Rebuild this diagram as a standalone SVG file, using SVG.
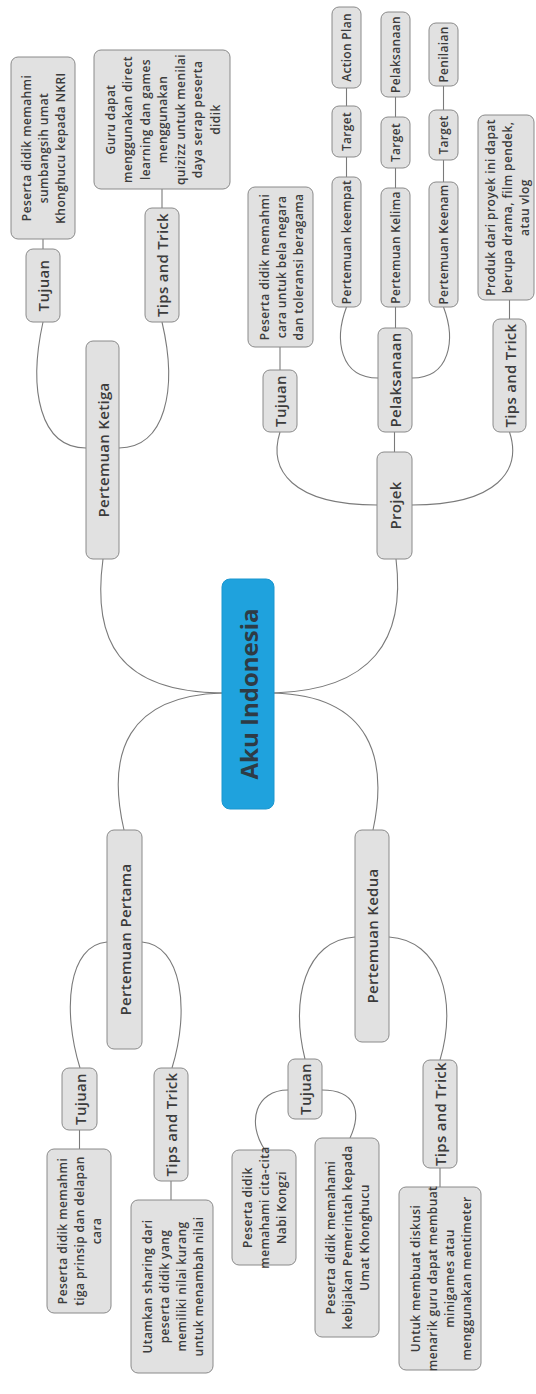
<svg xmlns="http://www.w3.org/2000/svg" width="536" height="1394" viewBox="0 0 536 1394">
  <style>
    .node { fill: #e1e1e1; stroke: #8a8a8a; stroke-width: 1; }
    .root { fill: #1fa2dd; stroke: #1b96cf; stroke-width: 1; }
    .lbl { font-family: "Open Sans", "Noto Sans", "Liberation Sans", sans-serif; font-weight: 600; fill: #3c3c3c; text-anchor: middle; dominant-baseline: central; }
    .t1 { font-size: 15px; letter-spacing: 0.3px; }
    .t2 { font-size: 12px; letter-spacing: 0.4px; }
    .t3 { font-size: 12px; letter-spacing: 0.3px; }
    .rootlbl { font-family: "Open Sans", "Noto Sans", "Liberation Sans", sans-serif; font-weight: 700; font-size: 24px; fill: #2e3b45; text-anchor: middle; dominant-baseline: central; }
    .conn path, .conn line { fill: none; stroke: #7a7a7a; stroke-width: 1.1; }
  </style>
  <rect width="536" height="1394" fill="#ffffff"/>

  <!-- connectors -->
  <g class="conn" id="connectors">
    <!-- root to main branches -->
    <path d="M 222 693 C 118 692, 92 640, 103 559"/>
    <path d="M 222 693 C 128 696, 106 752, 124 830"/>
    <path d="M 274 693 C 372 690, 406 640, 396 559"/>
    <path d="M 274 693 C 372 696, 388 760, 373 830"/>
    <!-- Pertemuan Ketiga -->
    <path d="M 86 448 C 40 448, 28 390, 43 322"/>
    <path d="M 119 448 C 165 448, 178 390, 162 322"/>
    <line x1="43" y1="249" x2="43" y2="239"/>
    <line x1="162" y1="208" x2="162" y2="189"/>
    <!-- Projek -->
    <path d="M 377 505 C 292 505, 268 470, 280 432"/>
    <path d="M 412 505 C 498 505, 522 470, 509.5 432"/>
    <line x1="394.5" y1="452" x2="394.5" y2="432"/>
    <line x1="280" y1="370" x2="280" y2="347"/>
    <line x1="509.5" y1="319" x2="509.5" y2="300"/>
    <path d="M 378 378 C 340 378, 334 340, 346.5 307"/>
    <path d="M 412 378 C 450 378, 456 340, 443.5 307"/>
    <line x1="395.5" y1="328" x2="395.5" y2="307"/>
    <line x1="346.5" y1="177" x2="346.5" y2="157"/>
    <line x1="346.5" y1="106" x2="346.5" y2="88"/>
    <line x1="395.5" y1="188" x2="395.5" y2="168"/>
    <line x1="395.5" y1="117" x2="395.5" y2="97"/>
    <line x1="443.5" y1="182" x2="443.5" y2="160"/>
    <line x1="443.5" y1="110" x2="443.5" y2="86"/>
    <!-- Pertemuan Pertama -->
    <path d="M 107 942 C 68 945, 62 1010, 80 1068"/>
    <path d="M 142 942 C 182 945, 190 1010, 172 1068"/>
    <line x1="79.5" y1="1130" x2="79.5" y2="1149"/>
    <line x1="171" y1="1181" x2="171" y2="1200"/>
    <!-- Pertemuan Kedua -->
    <path d="M 355 937 C 305 940, 290 1000, 305 1059"/>
    <path d="M 389 937 C 440 940, 458 1000, 440 1060"/>
    <path d="M 322 1090 C 356 1090, 362 1112, 350 1138"/>
    <path d="M 288 1090 C 256 1090, 246 1122, 265 1150"/>
    <line x1="440" y1="1168" x2="440" y2="1187"/>
  </g>

  <!-- central topic -->
  <g id="aku-indonesia">
    <rect class="root" x="222" y="579" width="52" height="230" rx="8"/>
    <text class="rootlbl" transform="translate(248,694) rotate(-90)">Aku Indonesia</text>
  </g>

  <!-- Pertemuan Ketiga branch -->
  <g id="pertemuan-ketiga">
    <rect class="node" x="86" y="341" width="33" height="218" rx="7"/>
    <text class="lbl t1" transform="translate(102.5,450) rotate(-90)">Pertemuan Ketiga</text>
  </g>
  <g id="ketiga-tujuan">
    <rect class="node" x="26" y="249" width="34" height="73" rx="7"/>
    <text class="lbl t1" transform="translate(43,285.5) rotate(-90)">Tujuan</text>
  </g>
  <g id="ketiga-tujuan-isi">
    <rect class="node" x="11" y="57" width="64" height="182" rx="7"/>
    <text class="lbl t2" transform="translate(43,148) rotate(-90)"><tspan x="0" y="-17">Peserta didik memahmi</tspan><tspan x="0" y="0">sumbangsih umat</tspan><tspan x="0" y="17">Khonghucu kepada NKRI</tspan></text>
  </g>
  <g id="ketiga-tips">
    <rect class="node" x="145" y="208" width="34" height="114" rx="7"/>
    <text class="lbl t1" transform="translate(162,265) rotate(-90)">Tips and Trick</text>
  </g>
  <g id="ketiga-tips-isi">
    <rect class="node" x="94" y="50" width="136" height="139" rx="7"/>
    <text class="lbl t2" transform="translate(162,119.5) rotate(-90)"><tspan x="0" y="-52.5">Guru dapat</tspan><tspan x="0" y="-35">menggunakan direct</tspan><tspan x="0" y="-17.5">learning dan games</tspan><tspan x="0" y="0">menggunakan</tspan><tspan x="0" y="17.5">quizizz untuk menilai</tspan><tspan x="0" y="35">daya serap peserta</tspan><tspan x="0" y="52.5">didik</tspan></text>
  </g>

  <!-- Projek branch -->
  <g id="projek">
    <rect class="node" x="377" y="452" width="35" height="107" rx="7"/>
    <text class="lbl t1" transform="translate(394.5,505.5) rotate(-90)">Projek</text>
  </g>
  <g id="projek-tujuan">
    <rect class="node" x="263" y="370" width="34" height="62" rx="7"/>
    <text class="lbl t1" transform="translate(280,401) rotate(-90)">Tujuan</text>
  </g>
  <g id="projek-tujuan-isi">
    <rect class="node" x="248" y="187" width="65" height="160" rx="7"/>
    <text class="lbl t2" transform="translate(280.5,267) rotate(-90)"><tspan x="0" y="-17">Peserta didik memahmi</tspan><tspan x="0" y="0">cara untuk bela negara</tspan><tspan x="0" y="17">dan toleransi beragama</tspan></text>
  </g>
  <g id="pelaksanaan">
    <rect class="node" x="378" y="328" width="34" height="104" rx="7"/>
    <text class="lbl t1" transform="translate(395,380) rotate(-90)">Pelaksanaan</text>
  </g>
  <g id="pertemuan-keempat">
    <rect class="node" x="332" y="177" width="29" height="130" rx="7"/>
    <text class="lbl t3" transform="translate(346.5,242) rotate(-90)">Pertemuan keempat</text>
  </g>
  <g id="target-keempat">
    <rect class="node" x="332" y="106" width="29" height="51" rx="7"/>
    <text class="lbl t3" transform="translate(346.5,131.5) rotate(-90)">Target</text>
  </g>
  <g id="action-plan">
    <rect class="node" x="332" y="7" width="29" height="81" rx="7"/>
    <text class="lbl t3" transform="translate(346.5,47.5) rotate(-90)">Action Plan</text>
  </g>
  <g id="pertemuan-kelima">
    <rect class="node" x="381" y="188" width="29" height="119" rx="7"/>
    <text class="lbl t3" transform="translate(395.5,247.5) rotate(-90)">Pertemuan Kelima</text>
  </g>
  <g id="target-kelima">
    <rect class="node" x="381" y="117" width="29" height="51" rx="7"/>
    <text class="lbl t3" transform="translate(395.5,142.5) rotate(-90)">Target</text>
  </g>
  <g id="pelaksanaan-kelima">
    <rect class="node" x="381" y="12" width="29" height="85" rx="7"/>
    <text class="lbl t3" transform="translate(395.5,54.5) rotate(-90)">Pelaksanaan</text>
  </g>
  <g id="pertemuan-keenam">
    <rect class="node" x="429" y="182" width="29" height="125" rx="7"/>
    <text class="lbl t3" transform="translate(443.5,244.5) rotate(-90)">Pertemuan Keenam</text>
  </g>
  <g id="target-keenam">
    <rect class="node" x="429" y="110" width="29" height="50" rx="7"/>
    <text class="lbl t3" transform="translate(443.5,135) rotate(-90)">Target</text>
  </g>
  <g id="penilaian">
    <rect class="node" x="429" y="23" width="29" height="63" rx="7"/>
    <text class="lbl t3" transform="translate(443.5,54.5) rotate(-90)">Penilaian</text>
  </g>
  <g id="projek-tips">
    <rect class="node" x="493" y="319" width="33" height="113" rx="7"/>
    <text class="lbl t1" transform="translate(509.5,375.5) rotate(-90)">Tips and Trick</text>
  </g>
  <g id="projek-tips-isi">
    <rect class="node" x="478" y="115" width="56" height="185" rx="7"/>
    <text class="lbl t2" transform="translate(507,207.5) rotate(-90)"><tspan x="0" y="-17">Produk dari proyek ini dapat</tspan><tspan x="0" y="0">berupa drama, film pendek,</tspan><tspan x="0" y="17">atau vlog</tspan></text>
  </g>

  <!-- Pertemuan Pertama branch -->
  <g id="pertemuan-pertama">
    <rect class="node" x="107" y="830" width="35" height="219" rx="7"/>
    <text class="lbl t1" transform="translate(124.5,939.5) rotate(-90)">Pertemuan Pertama</text>
  </g>
  <g id="pertama-tujuan">
    <rect class="node" x="62" y="1068" width="35" height="62" rx="7"/>
    <text class="lbl t1" transform="translate(79.5,1099) rotate(-90)">Tujuan</text>
  </g>
  <g id="pertama-tujuan-isi">
    <rect class="node" x="47" y="1149" width="64" height="164" rx="7"/>
    <text class="lbl t2" transform="translate(79,1231) rotate(-90)"><tspan x="0" y="-17">Peserta didik memahmi</tspan><tspan x="0" y="0">tiga prinsip dan delapan</tspan><tspan x="0" y="17">cara</tspan></text>
  </g>
  <g id="pertama-tips">
    <rect class="node" x="154" y="1068" width="34" height="113" rx="7"/>
    <text class="lbl t1" transform="translate(171,1124.5) rotate(-90)">Tips and Trick</text>
  </g>
  <g id="pertama-tips-isi">
    <rect class="node" x="131" y="1200" width="82" height="173" rx="7"/>
    <text class="lbl t2" transform="translate(172,1286.5) rotate(-90)"><tspan x="0" y="-25.5">Utamkan sharing dari</tspan><tspan x="0" y="-8.5">peserta didik yang</tspan><tspan x="0" y="8.5">memiliki nilai kurang</tspan><tspan x="0" y="25.5">untuk menambah nilai</tspan></text>
  </g>

  <!-- Pertemuan Kedua branch -->
  <g id="pertemuan-kedua">
    <rect class="node" x="355" y="830" width="34" height="212" rx="7"/>
    <text class="lbl t1" transform="translate(372,936) rotate(-90)">Pertemuan Kedua</text>
  </g>
  <g id="kedua-tujuan">
    <rect class="node" x="288" y="1059" width="34" height="60" rx="7"/>
    <text class="lbl t1" transform="translate(305,1089) rotate(-90)">Tujuan</text>
  </g>
  <g id="kedua-tujuan-isi-1">
    <rect class="node" x="232" y="1150" width="64" height="115" rx="7"/>
    <text class="lbl t2" transform="translate(264,1207.5) rotate(-90)"><tspan x="0" y="-17">Peserta didik</tspan><tspan x="0" y="0">memahami cita-cita</tspan><tspan x="0" y="17">Nabi Kongzi</tspan></text>
  </g>
  <g id="kedua-tujuan-isi-2">
    <rect class="node" x="315" y="1138" width="64" height="199" rx="7"/>
    <text class="lbl t2" transform="translate(347,1237.5) rotate(-90)"><tspan x="0" y="-17">Peserta didik memahami</tspan><tspan x="0" y="0">kebijakan Pemerintah kepada</tspan><tspan x="0" y="17">Umat Khonghucu</tspan></text>
  </g>
  <g id="kedua-tips">
    <rect class="node" x="423" y="1060" width="34" height="108" rx="7"/>
    <text class="lbl t1" transform="translate(440,1114) rotate(-90)">Tips and Trick</text>
  </g>
  <g id="kedua-tips-isi">
    <rect class="node" x="399" y="1187" width="82" height="183" rx="7"/>
    <text class="lbl t2" transform="translate(440,1278.5) rotate(-90)"><tspan x="0" y="-25.5">Untuk membuat diskusi</tspan><tspan x="0" y="-8.5">menarik guru dapat membuat</tspan><tspan x="0" y="8.5">minigames atau</tspan><tspan x="0" y="25.5">menggunakan mentimeter</tspan></text>
  </g>
</svg>
